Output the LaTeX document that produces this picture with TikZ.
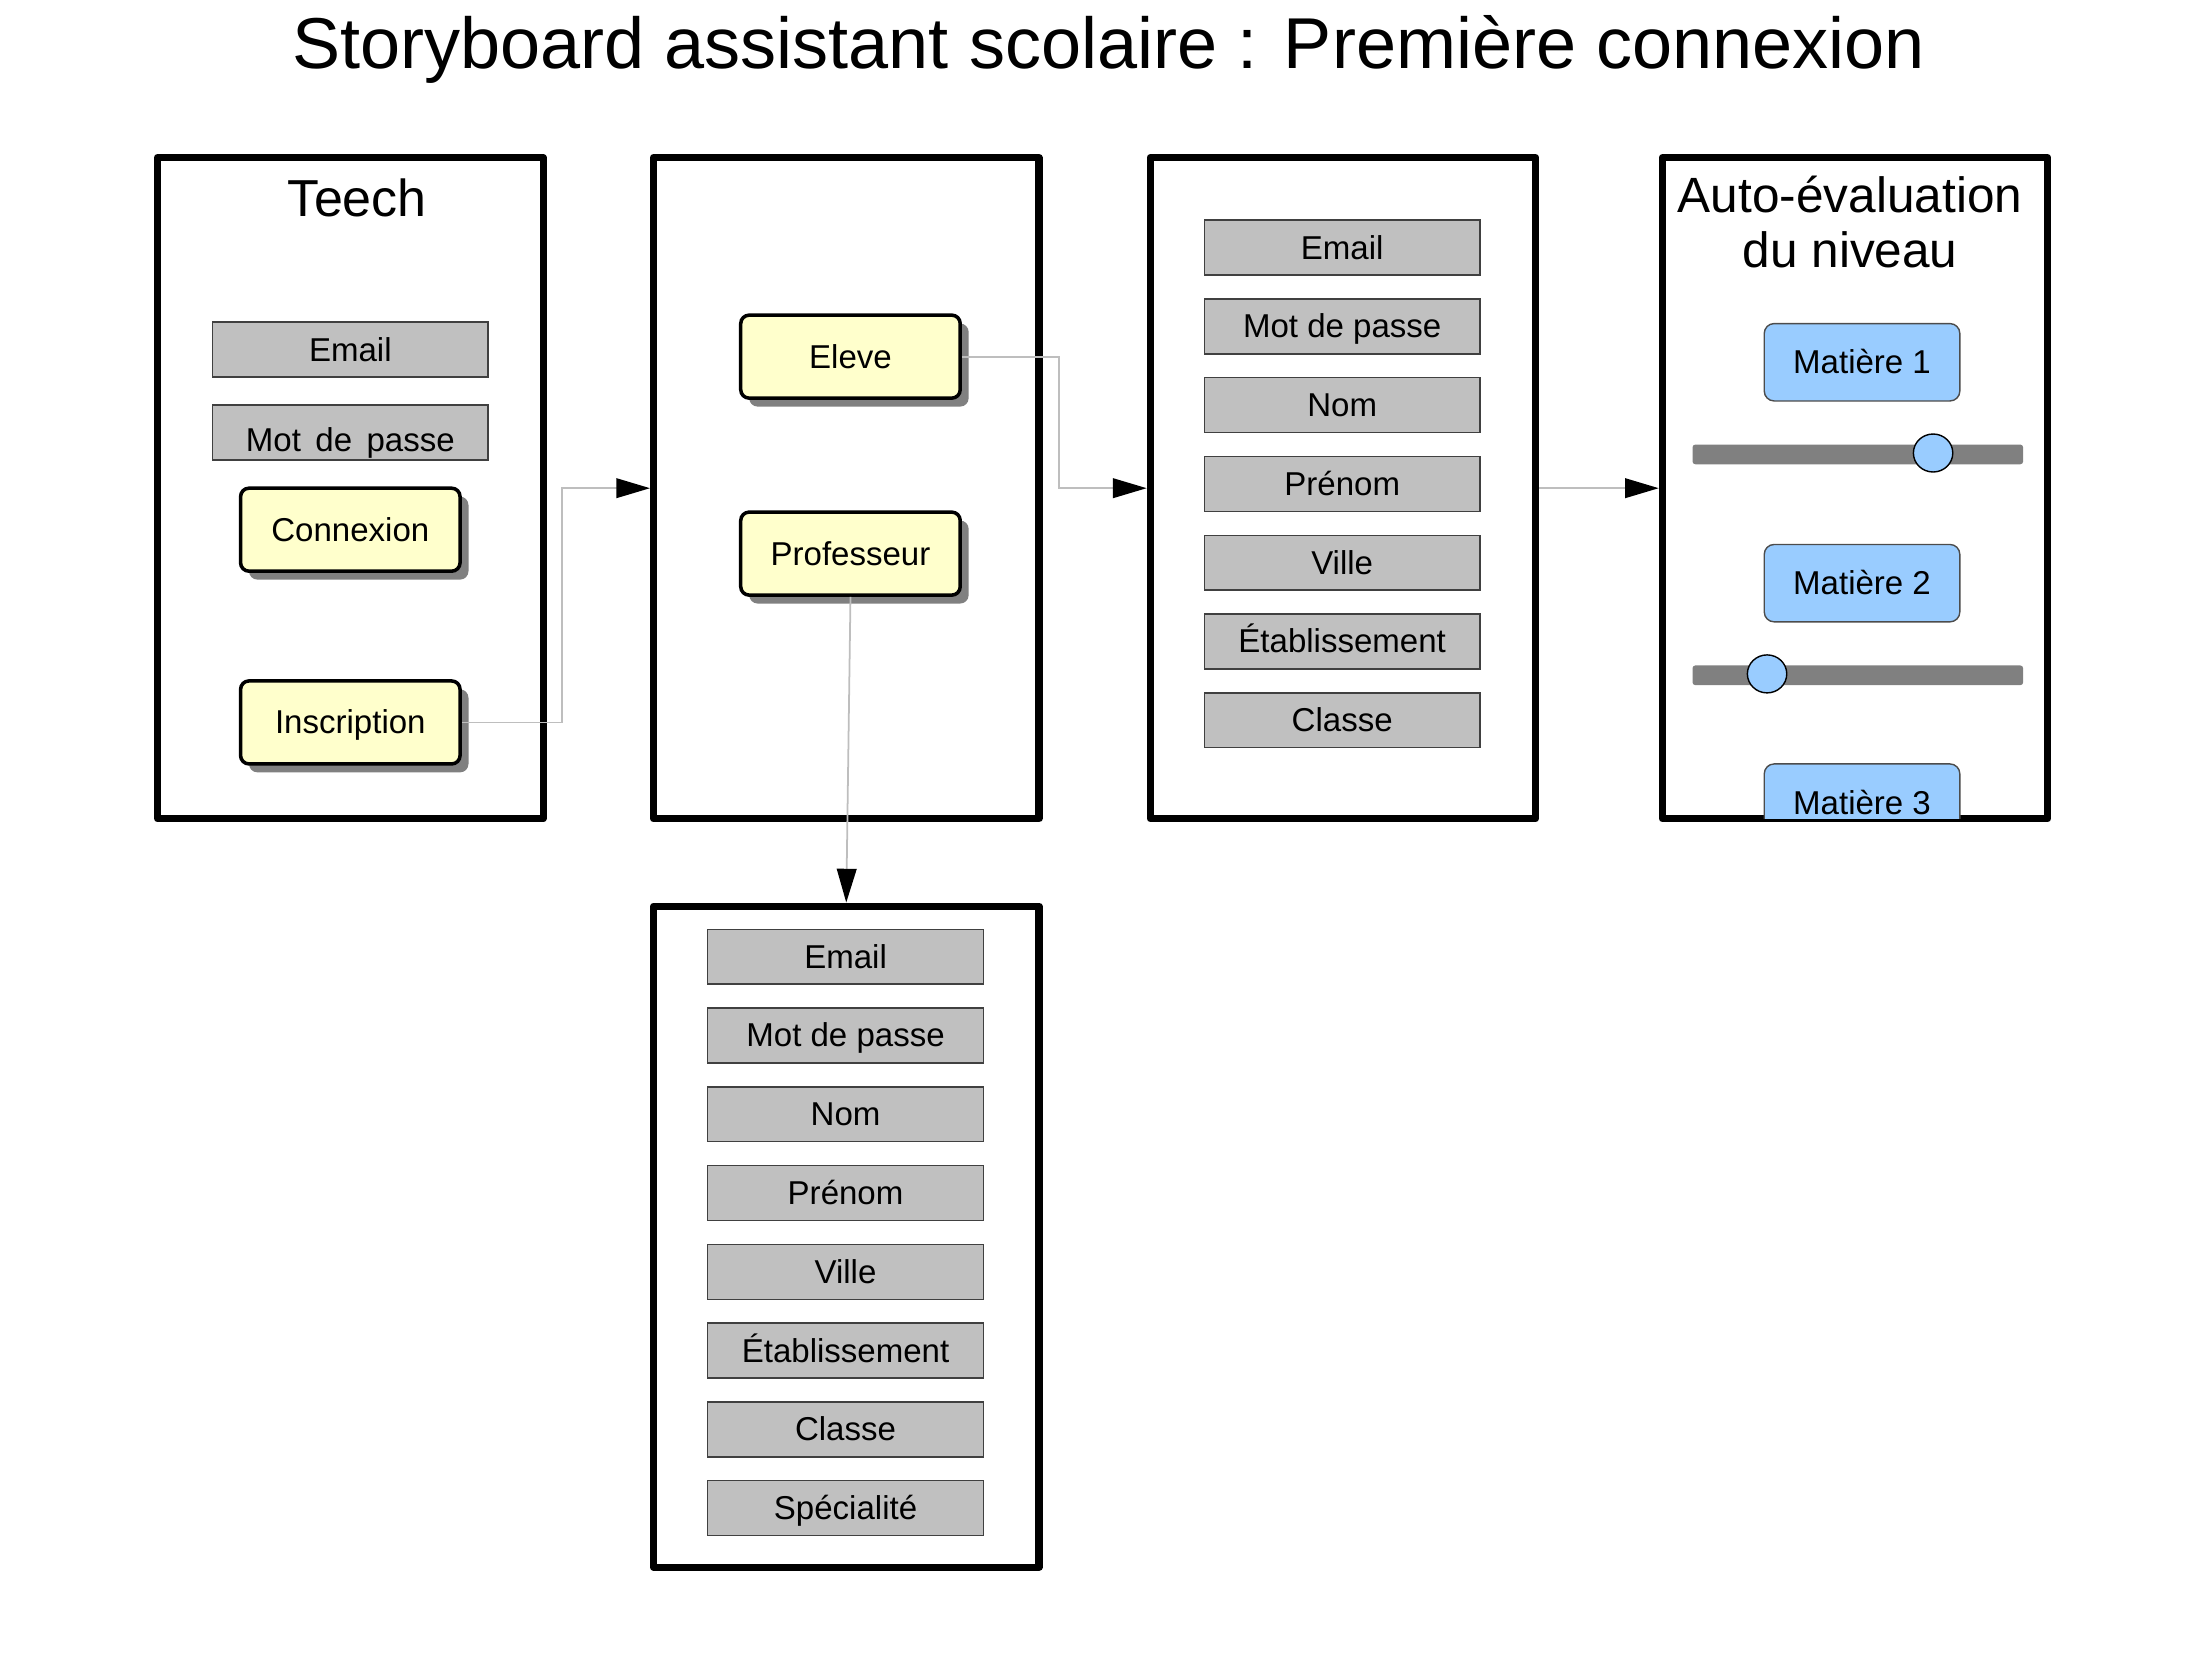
\documentclass[tikz,border=0pt]{standalone}
\usepackage{fontspec}
\setmainfont{Liberation Sans}
\usepackage{tikz}
\usetikzlibrary{arrows.meta}
\usetikzlibrary{shadows}
\usetikzlibrary{shapes.geometric}
\usetikzlibrary{positioning}

\newlength{\pxu}
\setlength{\pxu}{0.4003pt}

\definecolor{fieldgray}{HTML}{C0C0C0}
\definecolor{btnyellow}{HTML}{FFFFCC}
\definecolor{subjblue}{HTML}{99CCFF}
\definecolor{slidergray}{HTML}{808080}
\definecolor{linkgray}{HTML}{BEBEBE}

\begin{document}
\begin{tikzpicture}[
  x=1\pxu, y=-1\pxu,
  font=\fontsize{9.4}{11.3}\selectfont,
  > = {Triangle[length=9.6pt,width=5.6pt]},
  screen/.style = {draw,line width=2pt,line join=round,minimum width=274\pxu,minimum height=470\pxu,inner sep=0pt},
  field/.style = {draw=black!75,fill=fieldgray,line width=0.4pt,minimum width=196\pxu,minimum height=39\pxu,inner sep=0pt,
    text height=8.4pt,text depth=1.9pt},
  button/.style = {draw,fill=btnyellow,line width=1pt,rounded corners=6\pxu,minimum width=156\pxu,minimum height=59\pxu,inner sep=0pt,
    text height=8.4pt,text depth=1.9pt,
    drop shadow={shadow xshift=6\pxu,shadow yshift=-6\pxu,fill=slidergray,opacity=1}},
  subject/.style = {draw=black!70,fill=subjblue,line width=0.4pt,rounded corners=7\pxu,minimum width=139\pxu,minimum height=55\pxu,inner sep=0pt,
    text height=8.4pt,text depth=1.9pt},
  bar/.style = {fill=slidergray,rounded corners=2\pxu,minimum width=235\pxu,minimum height=14\pxu,inner sep=0pt},
  knob/.style = {draw,fill=subjblue,line width=0.4pt,ellipse,minimum width=28\pxu,minimum height=27\pxu,inner sep=0pt},
  link/.style = {draw=linkgray,line width=0.5pt,->,>={Triangle[length=9.6pt,width=5.6pt,fill=black,color=black]}},
  ]
  \useasboundingbox (0,0) rectangle (1568,1175);

  \node[font=\fontsize{20.5}{24}\selectfont] (title) at (788,35) {Storyboard assistant scolaire : Première connexion};

  % ecrans
  \node[screen] (s1) at (249,347) {};
  \node[screen] (s2) at (601.5,347) {};
  \node[screen] (s3) at (954.5,347) {};
  \node[screen] (s4) at (1318.5,347) {};
  \node[screen] (s5) at (601.5,879) {};

  % accueil
  \node[font=\fontsize{14.8}{17}\selectfont] (teech) at (254,141) {Teech};
  \node[field] (mail1) at (249,248.5) {Email};
  \node[field,text height=12.4pt] (mdp1) at (249,307.5) {Mot\hspace{1.5pt} de\hspace{1.5pt} passe};
  \node[button] (conn) at (249,376.5) {Connexion};
  \node[button] (insc) at (249,513.5) {Inscription};

  % choix du profil
  \node[button] (eleve) at (604.5,253.5) {Eleve};
  \node[button] (prof) at (604.5,393.5) {Professeur};

  % inscription eleve
  \node[field] (mail3) at (954,176) {Email};
  \node[field] (mdp3) at (954,232) {Mot de passe};
  \node[field] (nom3) at (954,288) {Nom};
  \node[field] (prenom3) at (954,344) {Prénom};
  \node[field] (ville3) at (954,400) {Ville};
  \node[field] (etab3) at (954,456) {Établissement};
  \node[field] (classe3) at (954,512) {Classe};

  % inscription professeur
  \node[field] (mail5) at (601,680) {Email};
  \node[field] (mdp5) at (601,736) {Mot de passe};
  \node[field] (nom5) at (601,792) {Nom};
  \node[field] (prenom5) at (601,848) {Prénom};
  \node[field] (ville5) at (601,904) {Ville};
  \node[field] (etab5) at (601,960) {Établissement};
  \node[field] (classe5) at (601,1016) {Classe};
  \node[field] (spec5) at (601,1072) {Spécialité};

  % auto-evaluation
  \node[font=\fontsize{14.1}{15.6}\selectfont,align=center] (auto) at (1315,158) {Auto-évaluation\\du niveau};
  \node[subject] (m1) at (1323.5,257.5) {Matière 1};
  \node[bar] (bar1) at (1320.5,323) {};
  \node[knob] (k1) at (1374,322) {};
  \node[subject] (m2) at (1323.5,414.5) {Matière 2};
  \node[bar] (bar2) at (1320.5,480) {};
  \node[knob] (k2) at (1256,479) {};
  \begin{scope}
    \clip ([shift={(1pt,-1pt)}]s4.north west) rectangle ([shift={(-1pt,1pt)}]s4.south east);
    \node[subject] (m3) at (1323.5,570.5) {Matière 3};
  \end{scope}

  % liens
  \draw[link] (insc.east) -- ++(71,0) |- (s2.west);
  \draw[link] (eleve.east) -- ++(69,0) |- (s3.west);
  \draw[link] (s3.east) -- (s4.west);
  \draw[link] (prof.south) -- (s5.north);

\end{tikzpicture}
\end{document}
